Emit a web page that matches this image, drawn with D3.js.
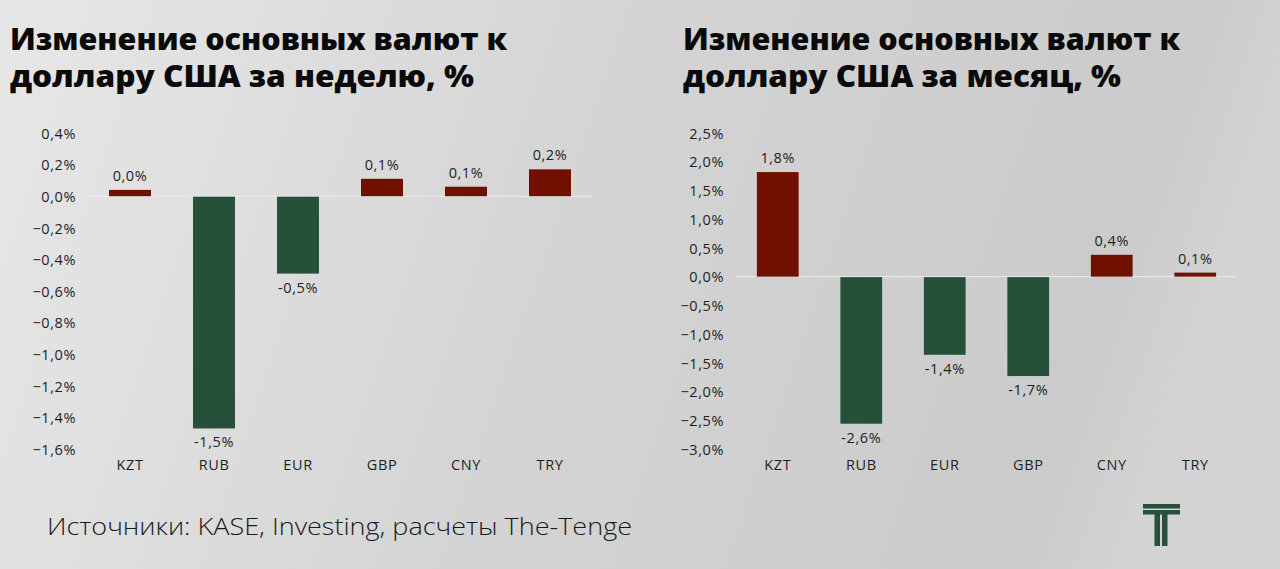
<!DOCTYPE html>
<html>
<head>
<meta charset="utf-8">
<script src="https://cdn.jsdelivr.net/npm/d3@7/dist/d3.min.js"></script>
<style>
  html, body { margin: 0; padding: 0; }
  body { width: 1280px; height: 569px; overflow: hidden; }
  svg { display: block; }
  text { font-family: "Open Sans", "Noto Sans", sans-serif; }
</style>
</head>
<body>
<svg id="chart" width="1280" height="569"></svg>
<script>
// ---- data ----
const categories = ["KZT", "RUB", "EUR", "GBP", "CNY", "TRY"];
const weekValues = [0.04, -1.47, -0.49, 0.11, 0.06, 0.17];
const weekLabels = ["0,0%", "-1,5%", "-0,5%", "0,1%", "0,1%", "0,2%"];
const weekTicks = [0.4, 0.2, 0.0, -0.2, -0.4, -0.6, -0.8, -1.0, -1.2, -1.4, -1.6];
const monthValues = [1.82, -2.56, -1.36, -1.73, 0.38, 0.07];
const monthLabels = ["1,8%", "-2,6%", "-1,4%", "-1,7%", "0,4%", "0,1%"];
const monthTicks = [2.5, 2.0, 1.5, 1.0, 0.5, 0.0, -0.5, -1.0, -1.5, -2.0, -2.5, -3.0];
const weekTitle = ["Изменение основных валют к", "доллару США за неделю, %"];
const monthTitle = ["Изменение основных валют к", "доллару США за месяц, %"];
const sourceText = "Источники: KASE, Investing, расчеты The-Tenge";

const POS = "#721000", NEG = "#27503a", TXT = "#1f1f1f";
const LBL = 14.5, LS = "0.6px";

const svg = d3.select("#chart");

// background gradient
const defs = svg.append("defs");
const g = defs.append("linearGradient").attr("id", "bg").attr("x1", 0).attr("x2", 1).attr("y1", 0).attr("y2", 0.15);
g.append("stop").attr("offset", "0%").attr("stop-color", "#e7e7e7");
g.append("stop").attr("offset", "50%").attr("stop-color", "#d4d4d4");
g.append("stop").attr("offset", "92%").attr("stop-color", "#cbcbcb");
g.append("stop").attr("offset", "100%").attr("stop-color", "#d3d3d3");
svg.append("rect").attr("width", 1280).attr("height", 569).attr("fill", "url(#bg)");

const fmt = v => d3.format(".1f")(v).replace(".", ",") + "%";

function drawChart(opts) {
  const { x0, x1, titleX, title, titleLens, values, labels, ticks, domain, axisX } = opts;
  const x = d3.scaleBand().domain(categories).range([x0, x1]).paddingInner(0.5).paddingOuter(0.25);
  const y = d3.scaleLinear().domain(domain).range([449, 133]);
  const root = svg.append("g");

  // title
  title.forEach((t, i) => {
    root.append("text").attr("x", titleX).attr("y", 50 + i * 37)
      .attr("font-size", 30).attr("font-weight", 800).attr("fill", "#0a0a0a")
      .attr("textLength", titleLens[i]).attr("lengthAdjust", "spacingAndGlyphs")
      .text(t);
  });

  // y axis
  const yAxis = d3.axisLeft(y).tickValues(ticks).tickSize(0).tickPadding(0)
    .tickFormat(fmt);
  const ya = root.append("g").attr("transform", `translate(${axisX},0)`).call(yAxis);
  ya.select(".domain").remove();
  ya.selectAll("text").attr("font-size", LBL).attr("fill", TXT).attr("letter-spacing", LS)
    .attr("font-family", "'Open Sans', sans-serif").attr("dy", "0.36em");

  // zero line
  root.append("line").attr("x1", x0).attr("x2", x1).attr("y1", y(0)).attr("y2", y(0))
    .attr("stroke", "#ececec").attr("stroke-width", 1);

  // bars
  root.selectAll("rect.bar").data(values).join("rect").attr("class", "bar")
    .attr("x", (d, i) => x(categories[i]))
    .attr("width", x.bandwidth())
    .attr("y", d => d >= 0 ? y(d) : y(0) + 0.5)
    .attr("height", d => Math.abs(y(d) - y(0)) - (d >= 0 ? 0 : 0.5))
    .attr("fill", d => d >= 0 ? POS : NEG);

  // value labels
  root.selectAll("text.val").data(values).join("text").attr("class", "val")
    .attr("x", (d, i) => x(categories[i]) + x.bandwidth() / 2)
    .attr("y", d => d >= 0 ? y(d) - 9 : y(d) + 19)
    .attr("text-anchor", "middle").attr("font-size", LBL).attr("letter-spacing", LS).attr("fill", TXT)
    .text((d, i) => labels[i]);

  // x axis labels
  const xAxis = d3.axisBottom(x).tickSize(0).tickPadding(0);
  const xa = root.append("g").attr("transform", "translate(0,460)").call(xAxis);
  xa.select(".domain").remove();
  xa.selectAll("text").attr("font-size", LBL).attr("fill", TXT).attr("letter-spacing", LS)
    .attr("font-family", "'Open Sans', sans-serif").attr("dy", "0.71em");
}

drawChart({
  x0: 88, x1: 592, titleX: 10, title: weekTitle, titleLens: [497, 464],
  values: weekValues, labels: weekLabels, ticks: weekTicks, domain: [-1.6, 0.4], axisX: 76
});
drawChart({
  x0: 736, x1: 1237, titleX: 683, title: monthTitle, titleLens: [497, 438],
  values: monthValues, labels: monthLabels, ticks: monthTicks, domain: [-3.0, 2.5], axisX: 724
});

// source
svg.append("text").attr("x", 47).attr("y", 535).attr("font-size", 24).attr("font-weight", 300)
  .attr("fill", "#1a1a1a").attr("textLength", 585).attr("lengthAdjust", "spacingAndGlyphs")
  .text(sourceText);

// logo
const logo = svg.append("g").attr("fill", NEG);
logo.append("rect").attr("x", 1143).attr("y", 504).attr("width", 37).attr("height", 4.5);
logo.append("rect").attr("x", 1143).attr("y", 510).attr("width", 37).attr("height", 4.5);
logo.append("rect").attr("x", 1154.5).attr("y", 514).attr("width", 5.5).attr("height", 32);
logo.append("rect").attr("x", 1162).attr("y", 514).attr("width", 5.5).attr("height", 32);
</script>
</body>
</html>
